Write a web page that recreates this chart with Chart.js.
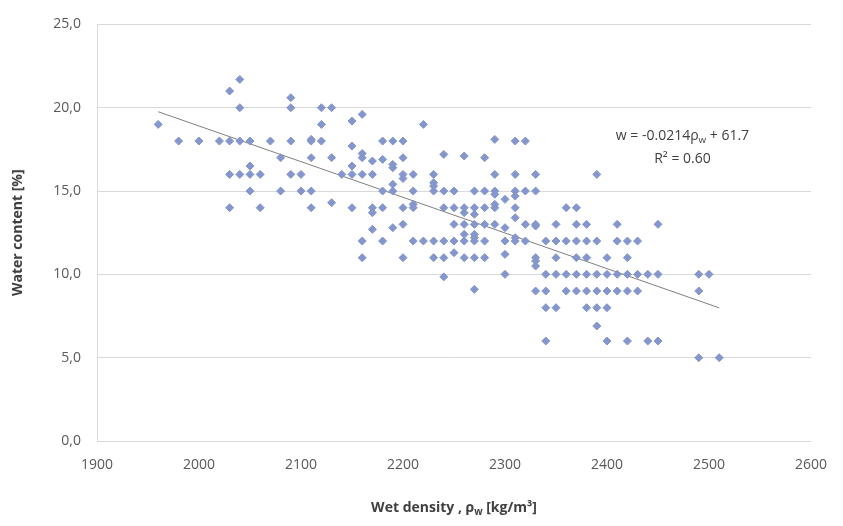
<!DOCTYPE html>
<html>
<head>
<meta charset="utf-8">
<script src="https://cdn.jsdelivr.net/npm/chart.js@4/dist/chart.umd.min.js"></script>
<style>
  body { margin: 0; background: #fff; }
</style>
</head>
<body>
<canvas id="chart" width="843" height="526"></canvas>
<script>
// wet density [kg/m3] and water content [%] pairs, read column by column
const density = [
    1960, 1980, 2000, 2020,
    2030, 2030, 2030, 2030,
    2040, 2040, 2040, 2040,
    2050, 2050, 2050, 2050,
    2060, 2060, 2070,
    2080, 2080,
    2090, 2090, 2090, 2090,
    2100, 2100,
    2110, 2110, 2110, 2110, 2110,
    2120, 2120, 2120,
    2130, 2130, 2130,
    2140,
    2150, 2150, 2150, 2150, 2150,
    2160, 2160, 2160, 2160, 2160, 2160,
    2170, 2170, 2170, 2170, 2170,
    2180, 2180, 2180, 2180, 2180,
    2190, 2190, 2190, 2190, 2190, 2190,
    2200, 2200, 2200, 2200, 2200, 2200, 2200,
    2210, 2210, 2210, 2210, 2210,
    2220, 2220,
    2230, 2230, 2230, 2230, 2230, 2230,
    2240, 2240, 2240, 2240, 2240, 2240,
    2250, 2250, 2250, 2250, 2250,
    2260, 2260, 2260, 2260, 2260, 2260, 2260,
    2270, 2270, 2270, 2270, 2270, 2270, 2270, 2270, 2270,
    2280, 2280, 2280, 2280, 2280, 2280,
    2290, 2290, 2290, 2290, 2290, 2290, 2290,
    2300, 2300, 2300, 2300, 2300,
    2310, 2310, 2310, 2310, 2310, 2310, 2310, 2310,
    2320, 2320, 2320, 2320,
    2330, 2330, 2330, 2330, 2330, 2330, 2330, 2330,
    2340, 2340, 2340, 2340, 2340,
    2350, 2350, 2350, 2350, 2350,
    2360, 2360, 2360, 2360,
    2370, 2370, 2370, 2370, 2370, 2370,
    2380, 2380, 2380, 2380, 2380, 2380,
    2390, 2390, 2390, 2390, 2390, 2390,
    2400, 2400, 2400, 2400, 2400,
    2410, 2410, 2410, 2410,
    2420, 2420, 2420, 2420, 2420,
    2430, 2430, 2430,
    2440, 2440,
    2450, 2450, 2450,
    2490, 2490, 2490,
    2500, 2510
];
const waterContent = [
    19.0, 18.0, 18.0, 18.0,
    21.0, 18.0, 16.0, 14.0,
    21.7, 20.0, 18.0, 16.0,
    18.0, 16.5, 16.0, 15.0,
    16.0, 14.0, 18.0,
    17.0, 15.0,
    20.6, 20.0, 18.0, 16.0,
    16.0, 15.0,
    18.1, 18.0, 17.0, 15.0, 14.0,
    20.0, 19.0, 18.0,
    20.0, 17.0, 14.3,
    16.0,
    19.2, 17.7, 16.5, 16.0, 14.0,
    19.6, 17.25, 17.0, 16.0, 12.0, 11.0,
    16.8, 16.0, 14.0, 13.7, 12.7,
    18.0, 16.9, 15.0, 14.0, 12.0,
    18.0, 16.6, 16.4, 15.4, 15.0, 12.8,
    18.0, 17.0, 16.0, 15.75, 14.0, 13.0, 11.0,
    16.0, 15.0, 14.2, 14.0, 12.0,
    19.0, 12.0,
    16.0, 15.5, 15.3, 15.0, 12.0, 11.0,
    17.2, 15.0, 14.0, 12.0, 11.0, 9.85,
    15.0, 14.0, 13.0, 12.0, 11.3,
    17.1, 14.0, 13.7, 13.0, 12.4, 12.0, 11.0,
    15.0, 14.0, 13.6, 13.0, 12.4, 12.2, 12.0, 11.0, 9.1,
    17.0, 15.0, 14.0, 13.0, 12.0, 11.0,
    18.1, 16.0, 15.0, 14.8, 14.2, 14.0, 13.0,
    14.5, 12.8, 12.0, 11.2, 10.0,
    18.0, 16.0, 15.0, 14.7, 14.0, 13.4, 12.2, 12.0,
    18.0, 15.0, 13.0, 12.0,
    16.0, 15.0, 13.0, 12.9, 11.0, 10.8, 10.5, 9.0,
    12.0, 10.0, 9.0, 8.0, 6.0,
    13.0, 12.0, 11.0, 10.0, 8.0,
    14.0, 12.0, 10.0, 9.0,
    14.0, 13.0, 12.0, 11.0, 10.0, 9.0,
    13.0, 12.0, 11.0, 10.0, 9.0, 8.0,
    16.0, 12.0, 10.0, 9.0, 8.0, 6.9,
    11.0, 10.0, 9.0, 8.0, 6.0,
    13.0, 12.0, 10.0, 9.0,
    12.0, 11.0, 10.0, 9.0, 6.0,
    12.0, 10.0, 9.0,
    10.0, 6.0,
    13.0, 10.0, 6.0,
    10.0, 9.0, 5.0,
    10.0, 5.0
];

// linear trendline ends as drawn
const trendX = [1960, 2510];
const trendY = [19.76, 7.99];

const xTicks = [1900, 2000, 2100, 2200, 2300, 2400, 2500, 2600];
const yTicks = [0, 5, 10, 15, 20, 25];

const labelColor = '#595959';
const gridColor = '#d9d9d9';
const fontFamily = "'Open Sans', 'Liberation Sans', sans-serif";

// draws "text" then a small subscript, centred on cx
function drawWithSub(ctx, parts, cx, cy, size) {
    let total = 0;
    parts.forEach(p => {
        ctx.font = (p.bold ? 'bold ' : '') + (p.sub ? size * 0.7 : size) + 'px ' + fontFamily;
        p.w = ctx.measureText(p.t).width;
        total += p.w;
    });
    let left = cx - total / 2;
    ctx.textAlign = 'left';
    ctx.textBaseline = 'middle';
    parts.forEach(p => {
        ctx.font = (p.bold ? 'bold ' : '') + (p.sub ? size * 0.7 : size) + 'px ' + fontFamily;
        ctx.fillText(p.t, left, p.sub ? cy + 4 : cy);
        left += p.w;
    });
}

// equation and axis title with subscripts, placed through the scales
const textPlugin = {
    id: 'texts',
    afterDraw(chart) {
        const { ctx, scales: { x, y } } = chart;
        const cx = x.getPixelForValue(2474);
        ctx.save();
        ctx.fillStyle = '#404040';
        drawWithSub(ctx, [{ t: 'w = -0.0214\u03C1' }, { t: 'w', sub: true }, { t: ' + 61.7' }],
            cx, y.getPixelForValue(18.3), 14);
        ctx.textAlign = 'center';
        ctx.font = '14px ' + fontFamily;
        ctx.fillText('R\u00B2 = 0.60', cx, y.getPixelForValue(16.9));
        drawWithSub(ctx, [{ t: 'Wet density , \u03C1', bold: true }, { t: 'w', sub: true, bold: true },
            { t: ' [kg/m\u00B3]', bold: true }], (x.left + x.right) / 2, x.bottom - 18, 14);
        ctx.restore();
    }
};

new Chart(document.getElementById('chart'), {
    type: 'scatter',
    data: {
        datasets: [
            {
                label: 'Samples',
                data: density.map((d, i) => ({ x: d, y: waterContent[i] })),
                backgroundColor: '#8496cb',
                borderColor: '#8496cb',
                pointStyle: 'rectRot',
                pointRadius: 4,
                pointHoverRadius: 4,
            },
            {
                label: 'Trend',
                type: 'line',
                data: trendX.map((d, i) => ({ x: d, y: trendY[i] })),
                borderColor: '#7f7f7f',
                borderWidth: 1,
                pointRadius: 0,
                fill: false,
            }
        ]
    },
    plugins: [textPlugin],
    options: {
        responsive: false,
        animation: false,
        layout: { padding: { top: 17, right: 23, left: 0, bottom: 0 } },
        plugins: {
            legend: { display: false },
            tooltip: { enabled: false },
        },
        scales: {
            x: {
                type: 'linear',
                min: 1900,
                max: 2600,
                afterBuildTicks: (scale) => { scale.ticks = xTicks.map(v => ({ value: v })); },
                afterFit: (scale) => { scale.height = 85; },
                grid: { display: false, drawTicks: false },
                border: { display: true, color: gridColor },
                ticks: {
                    color: labelColor,
                    padding: 16,
                    maxRotation: 0,
                    font: { family: fontFamily, size: 14 },
                    callback: (v) => String(v),
                },
            },
            y: {
                min: 0,
                max: 25,
                afterBuildTicks: (scale) => { scale.ticks = yTicks.map(v => ({ value: v })); },
                afterFit: (scale) => { scale.width = 97; },
                grid: { color: gridColor, drawTicks: false },
                border: { display: true, color: gridColor },
                ticks: {
                    color: labelColor,
                    padding: 16,
                    font: { family: fontFamily, size: 14 },
                    callback: (v) => v.toFixed(1).replace('.', ','),
                },
                title: {
                    display: true,
                    text: 'Water content [%]',
                    color: '#404040',
                    font: { family: fontFamily, size: 14, weight: 'bold' },
                    padding: { top: 10, bottom: 4 },
                },
            },
        },
    },
});
</script>
</body>
</html>
